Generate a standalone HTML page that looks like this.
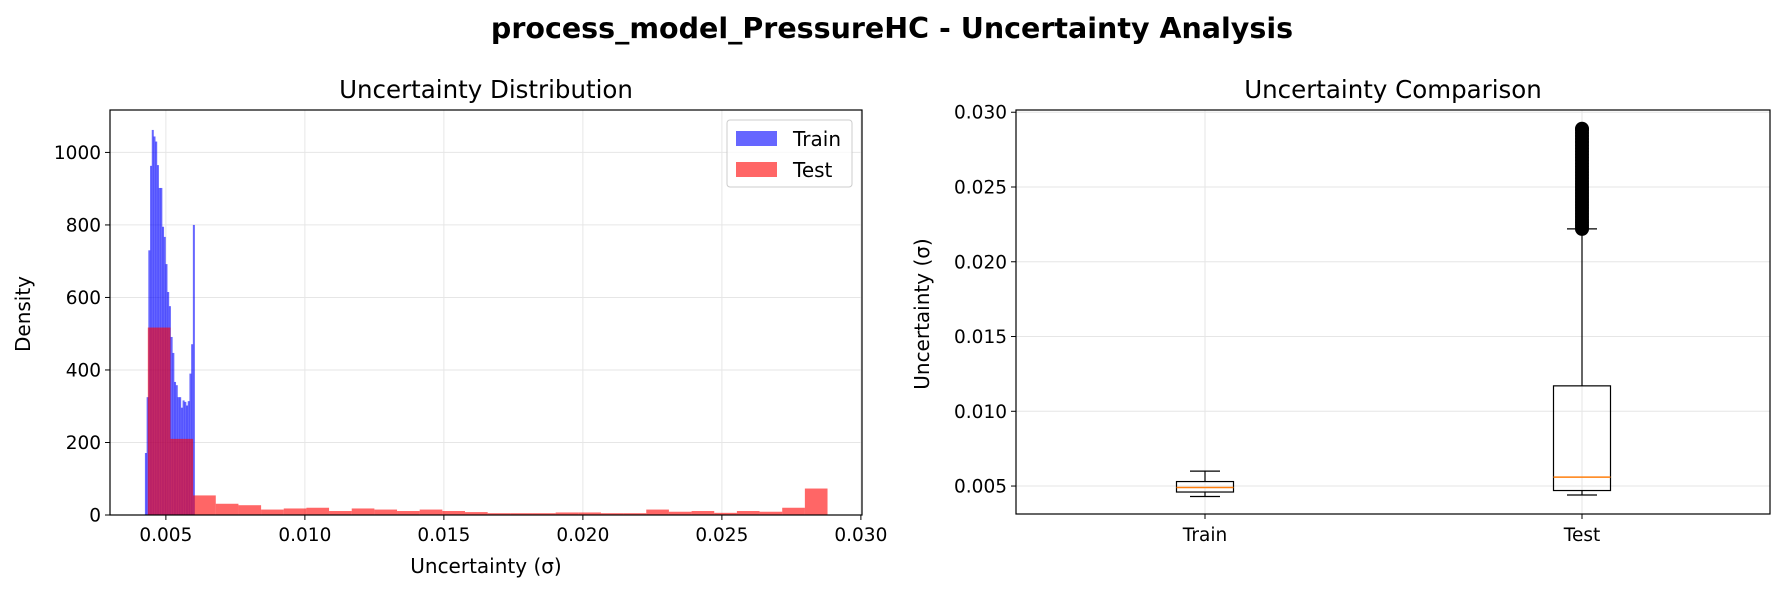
<!DOCTYPE html>
<html><head><meta charset="utf-8">
<style>
body{margin:0;background:#fff;}
svg{display:block;font-family:"DejaVu Sans","Liberation Sans",sans-serif;}
</style></head>
<body>
<svg id="fig" width="1784" height="593" viewBox="0 0 1784 593" xmlns="http://www.w3.org/2000/svg">
<rect width="1784" height="593" fill="#fff"/>
<text x="892" y="38" text-anchor="middle" font-size="28.5" font-weight="bold">process_model_PressureHC - Uncertainty Analysis</text>
<text x="486" y="98" text-anchor="middle" font-size="24.5">Uncertainty Distribution</text>
<text x="1393" y="98" text-anchor="middle" font-size="24.5">Uncertainty Comparison</text>
<g id="left"></g>
<g id="right"></g>
</svg>
<script>
// Histogram data
const trainStart = 0.004246, trainBinW = 0.0000616;
const trainCounts = [171,325,730,963,1062,1044,1030,965,902,902,795,767,692,615,576,491,447,367,358,325,325,296,316,312,302,314,390,471,800];
const testStart = 0.00435, testBinW = 0.000815;
const testCounts = [517,210,54,31,27,15,18,20,11,18,15,11,15,11,8,5,5,5,7,7,5,5,15,9,11,6,11,9,20,73];
const histXTicks = [0.005,0.010,0.015,0.020,0.025,0.030];
const histYTicks = [0,200,400,600,800,1000];
// Box plot data
const boxCats = ["Train","Test"];
const boxWhiskLow = [0.0043,0.0044];
const boxQ1 = [0.0046,0.0047];
const boxMedian = [0.0049,0.0056];
const boxQ3 = [0.0053,0.0117];
const boxWhiskHigh = [0.0060,0.0222];
const testOutliers = [0.0222,0.0224,0.0226,0.0228,0.0230,0.0232,0.0234,0.0236,0.0238,0.0240,0.0242,0.0244,0.0246,0.0248,0.0250,0.0252,0.0254,0.0256,0.0258,0.0260,0.0262,0.0264,0.0266,0.0268,0.0270,0.0272,0.0274,0.0276,0.0278,0.0280,0.0282,0.0284,0.0286,0.0288,0.0289];
const boxYTicks = [0.005,0.010,0.015,0.020,0.025,0.030];

const NS="http://www.w3.org/2000/svg";
function mk(parent,tag,attrs,txt){const e=document.createElementNS(NS,tag);for(const k in attrs)e.setAttribute(k,attrs[k]);if(txt!==undefined)e.textContent=txt;parent.appendChild(e);return e;}
const TF=18.5, LF=20;

// Left axes
const L={x0:110,x1:862,y0:110,y1:515};
const hx=v=>L.x0+(v-0.00299)/(0.03004-0.00299)*(L.x1-L.x0);
const hy=v=>L.y1-v/1117*(L.y1-L.y0);
const lg=document.getElementById('left');
histXTicks.forEach(t=>{const l=mk(lg,'line',{x1:hx(t),x2:hx(t),y1:L.y0,y2:L.y1,stroke:'#e6e6e6','stroke-width':1});

});
histYTicks.forEach(t=>{const l=mk(lg,'line',{x1:L.x0,x2:L.x1,y1:hy(t),y2:hy(t),stroke:'#e6e6e6','stroke-width':1});

});
trainCounts.forEach((c,i)=>{const a=trainStart+i*trainBinW;const r=mk(lg,'rect',{x:hx(a),y:hy(c),width:hx(a+trainBinW)-hx(a)+0.3,height:hy(0)-hy(c),fill:'#0000ff','fill-opacity':0.6});

});
testCounts.forEach((c,i)=>{const a=testStart+i*testBinW;const r=mk(lg,'rect',{x:hx(a),y:hy(c),width:hx(a+testBinW)-hx(a),height:hy(0)-hy(c),fill:'#ff0000','fill-opacity':0.6});

});
mk(lg,'rect',{x:L.x0,y:L.y0,width:L.x1-L.x0,height:L.y1-L.y0,fill:'none',stroke:'#000','stroke-width':1.2});
histXTicks.forEach(t=>{mk(lg,'line',{x1:hx(t),x2:hx(t),y1:L.y1,y2:L.y1+5,stroke:'#000'});
const tx=mk(lg,'text',{x:hx(t),y:L.y1+26,'text-anchor':'middle','font-size':TF},t.toFixed(3));

});
histYTicks.forEach(t=>{mk(lg,'line',{x1:L.x0-5,x2:L.x0,y1:hy(t),y2:hy(t),stroke:'#000'});
const tx=mk(lg,'text',{x:L.x0-9,y:hy(t)+6.5,'text-anchor':'end','font-size':TF},String(t));

});
let t1=mk(lg,'text',{x:486,y:573,'text-anchor':'middle','font-size':LF},'Uncertainty (σ)');


let t2=mk(lg,'text',{x:30,y:314,'text-anchor':'middle','font-size':LF,transform:'rotate(-90 30 314)'},'Density');


// legend
const leg=mk(lg,'g',{});


mk(leg,'rect',{x:727,y:120,width:125,height:67,rx:3,fill:'#fff','fill-opacity':0.8,stroke:'#ccc'});
const le1=mk(leg,'rect',{x:736,y:131,width:41,height:15,fill:'#0000ff','fill-opacity':0.6});


mk(leg,'text',{x:793,y:146,'font-size':LF},'Train');
const le2=mk(leg,'rect',{x:736,y:162,width:41,height:15,fill:'#ff0000','fill-opacity':0.6});


mk(leg,'text',{x:793,y:177,'font-size':LF},'Test');

// Right axes
const R={x0:1016,x1:1770,y0:110,y1:514};
const by=v=>R.y1-(v-0.00313)/(0.03015-0.00313)*(R.y1-R.y0);
const bxPos=[1205,1582];
const rg=document.getElementById('right');
bxPos.forEach(x=>{const l=mk(rg,'line',{x1:x,x2:x,y1:R.y0,y2:R.y1,stroke:'#e6e6e6'});

});
boxYTicks.forEach(t=>{const l=mk(rg,'line',{x1:R.x0,x2:R.x1,y1:by(t),y2:by(t),stroke:'#e6e6e6'});

});
boxCats.forEach((c,i)=>{
 const x=bxPos[i],hw=28.5,cw=15;
 const g=mk(rg,'g',{});
 
 
 mk(g,'line',{x1:x,x2:x,y1:by(boxWhiskLow[i]),y2:by(boxQ1[i]),stroke:'#000','stroke-width':1.2});
 mk(g,'line',{x1:x,x2:x,y1:by(boxQ3[i]),y2:by(boxWhiskHigh[i]),stroke:'#000','stroke-width':1.2});
 mk(g,'line',{x1:x-cw,x2:x+cw,y1:by(boxWhiskLow[i]),y2:by(boxWhiskLow[i]),stroke:'#000','stroke-width':1.2});
 mk(g,'line',{x1:x-cw,x2:x+cw,y1:by(boxWhiskHigh[i]),y2:by(boxWhiskHigh[i]),stroke:'#000','stroke-width':1.2});
 mk(g,'rect',{x:x-hw,y:by(boxQ3[i]),width:2*hw,height:by(boxQ1[i])-by(boxQ3[i]),fill:'none',stroke:'#000','stroke-width':1.2});
 mk(g,'line',{x1:x-hw,x2:x+hw,y1:by(boxMedian[i]),y2:by(boxMedian[i]),stroke:'#ff7f0e','stroke-width':1.5});
 const tx=mk(rg,'text',{x:x,y:R.y1+27,'text-anchor':'middle','font-size':TF},c);
 
 
 mk(rg,'line',{x1:x,x2:x,y1:R.y1,y2:R.y1+5,stroke:'#000'});
});
testOutliers.forEach(v=>{const c=mk(rg,'circle',{cx:bxPos[1],cy:by(v),r:6.5,fill:'#000',stroke:'#000'});

});
mk(rg,'rect',{x:R.x0,y:R.y0,width:R.x1-R.x0,height:R.y1-R.y0,fill:'none',stroke:'#000','stroke-width':1.2});
boxYTicks.forEach(t=>{mk(rg,'line',{x1:R.x0-5,x2:R.x0,y1:by(t),y2:by(t),stroke:'#000'});
const tx=mk(rg,'text',{x:R.x0-9,y:by(t)+6.5,'text-anchor':'end','font-size':TF},t.toFixed(3));

});
let t3=mk(rg,'text',{x:929,y:314,'text-anchor':'middle','font-size':LF,transform:'rotate(-90 929 314)'},'Uncertainty (σ)');


</script>
</body></html>
